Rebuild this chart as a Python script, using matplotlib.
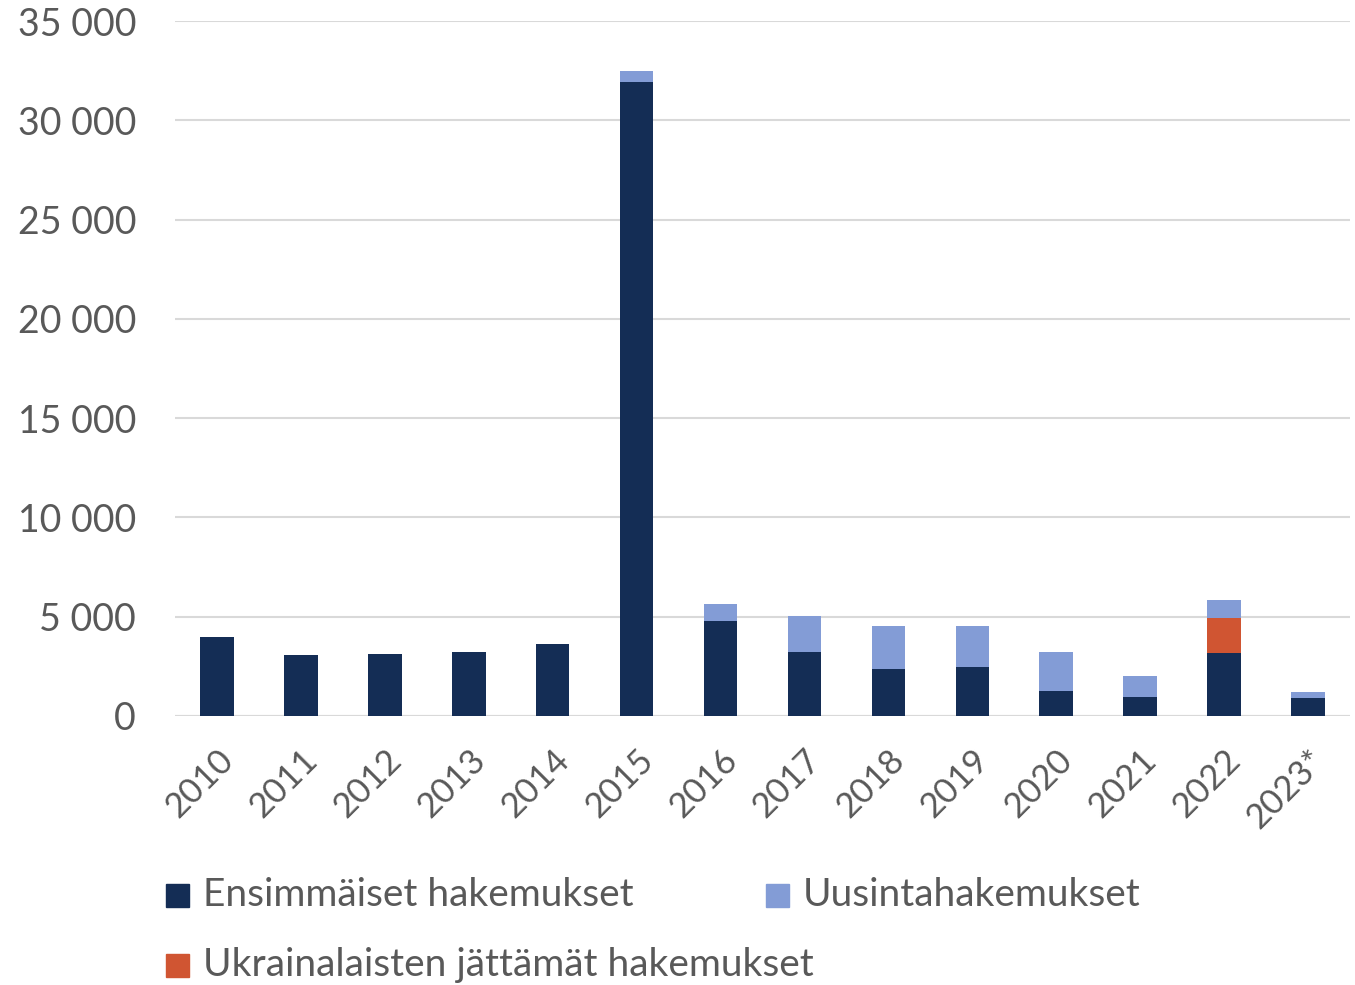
import matplotlib.pyplot as plt
from matplotlib.patches import Rectangle
import numpy as np

# Turvapaikkahakemukset vuosittain
vuodet = ["2010", "2011", "2012", "2013", "2014", "2015", "2016",
          "2017", "2018", "2019", "2020", "2021", "2022", "2023*"]
ensimmaiset = [3990, 3050, 3110, 3210, 3640, 31950, 4800,
               3200, 2380, 2450, 1260, 960, 3190, 930]
ukrainalaiset = [0, 0, 0, 0, 0, 0, 0,
                 0, 0, 0, 0, 0, 1760, 0]
uusinta = [0, 0, 0, 0, 0, 520, 840,
           1850, 2170, 2100, 1960, 1045, 880, 280]

c_ens = "#142d55"
c_uus = "#839cd6"
c_ukr = "#d05532"
c_txt = "#595959"

plt.rcParams['font.family'] = ['Lato', 'DejaVu Sans']

fig = plt.figure(figsize=(13.55, 9.85), dpi=100)
ax = fig.add_axes([175/1355, 1 - 716/985, 1175/1355, 695/985])

x = np.arange(len(vuodet))
ens = np.array(ensimmaiset)
ukr = np.array(ukrainalaiset)
uus = np.array(uusinta)
leveys = 0.4
ax.bar(x, ens, leveys, color=c_ens, zorder=3)
ax.bar(x, ukr, leveys, bottom=ens, color=c_ukr, zorder=3)
ax.bar(x, uus, leveys, bottom=ens + ukr, color=c_uus, zorder=3)

ax.set_xlim(-0.5, len(vuodet) - 0.5)
ax.set_ylim(0, 35000)
ax.set_yticks(np.arange(0, 35001, 5000))
ax.set_yticklabels([f"{v:,}".replace(",", " ") for v in range(0, 35001, 5000)])
ax.set_xticks(x)
ax.set_xticklabels(vuodet, rotation=45, ha='right', rotation_mode='anchor')
ax.tick_params(axis='y', length=0, pad=28, labelsize=27, labelcolor=c_txt)
ax.tick_params(axis='x', length=0, pad=20, labelsize=25, labelcolor=c_txt)
ax.grid(axis='y', color="#d9d9d9", linewidth=1.5, zorder=0)
for s in ax.spines.values():
    s.set_visible(False)
ax.axhline(0, color="#d9d9d9", linewidth=1.5, zorder=2)

# selite käsin, Excel-tyyliin
selite = [("Ensimmäiset hakemukset", c_ens, 166, 895),
          ("Uusintahakemukset", c_uus, 766, 895),
          ("Ukrainalaisten jättämät hakemukset", c_ukr, 166, 965)]
for teksti, vari, px, py in selite:
    fig.patches.append(Rectangle((px/1355, 1 - (py + 12)/985), 23/1355, 23/985,
                                 transform=fig.transFigure, color=vari))
    fig.text((px + 37)/1355, 1 - py/985, teksti, fontsize=28, color=c_txt,
             va='center', ha='left')

fig.savefig("out.png", dpi=100)
